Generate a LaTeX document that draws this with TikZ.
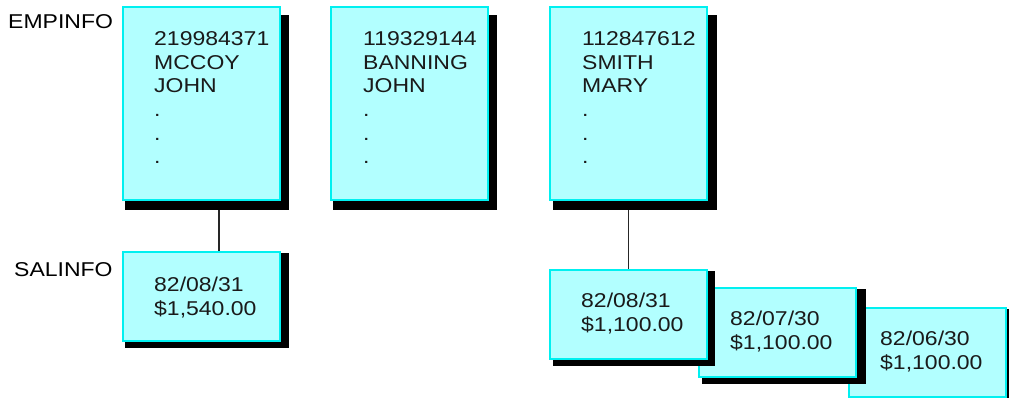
\documentclass[tikz,border=0pt]{standalone}
\usepackage{fontspec}
\setmainfont[FakeStretch=1.15]{Liberation Sans}
\definecolor{boxfill}{HTML}{B2FFFF}
\definecolor{boxline}{HTML}{00F0F0}
\definecolor{txt}{HTML}{1A1A1A}
\begin{document}
\begin{tikzpicture}[x=1pt,y=-1pt,
  recbox/.style={draw=boxline,fill=boxfill,line width=1.8pt,inner sep=0pt,anchor=north west,minimum width=157pt},
  tallbox/.style={recbox,minimum height=193pt},
  lowbox/.style={recbox,minimum height=89pt},
  shade/.style={fill=black},
  label/.style={font=\fontsize{20}{23.7}\selectfont,text=black,anchor=base west,inner sep=0pt},
  content/.style={font=\fontsize{20}{23.7}\selectfont,text=txt,anchor=base west,inner sep=0pt,align=left},
  link/.style={draw=black!85,line width=1.3pt}]
\useasboundingbox (0,0) rectangle (1009,398);
\fill[white] (0,0) rectangle (1009,398);
% labels
\node[label] (lemp) at (8,29) {EMPINFO};
\node[label] (lsal) at (14,276) {SALINFO};
% EMPINFO records (anchor = baseline of last line)
\fill[shade] (125,15) rectangle (289,210);
\node[tallbox] (e1) at (122,6) {};
\node[content] (t1) at (154,164) {219984371\\MCCOY\\JOHN\\.\\.\\.};
\fill[shade] (333,15) rectangle (497,210);
\node[tallbox] (e2) at (330,6) {};
\node[content] (t2) at (363,164) {119329144\\BANNING\\JOHN\\.\\.\\.};
\fill[shade] (553,15) rectangle (717,210);
\node[tallbox] (e3) at (549,6) {};
\node[content] (t3) at (582,164) {112847612\\SMITH\\MARY\\.\\.\\.};
% SALINFO for first
\fill[shade] (125,253) rectangle (289,348);
\node[lowbox] (s1) at (122,251) {};
\node[content] (u1) at (154,315) {82/08/31\\\$1,540.00};
% SALINFO chain for third (back to front)
\fill[shade] (851,309) rectangle (1015,405);
\node[lowbox] (s4) at (848,307) {};
\node[content] (u4) at (880,369) {82/06/30\\\$1,100.00};
\fill[shade] (702,289) rectangle (866,384);
\node[lowbox] (s3) at (698,287) {};
\node[content] (u3) at (730,349) {82/07/30\\\$1,100.00};
\fill[shade] (553,271) rectangle (715,366);
\node[lowbox] (s2) at (549,269) {};
\node[content] (u2) at (581,331) {82/08/31\\\$1,100.00};
% connectors
\coordinate (c1) at (219,210);
\draw[link] (c1) -- (c1 |- s1.north);
\draw[link] (e3.south |- 0,210) -- (s2.north);
\end{tikzpicture}
\end{document}
